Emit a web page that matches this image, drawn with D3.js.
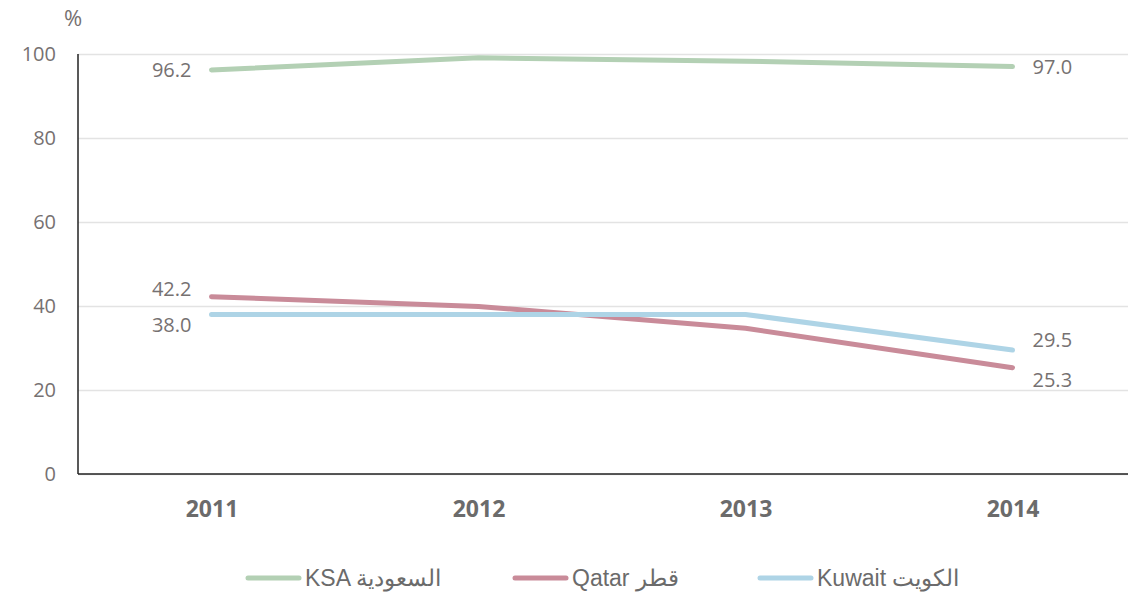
<!DOCTYPE html>
<meta charset="utf-8">
<style>
body { margin: 0; background: #fff; }
.tick text { fill: #767171; font-family: "Open Sans", sans-serif; font-size: 20px; }
.lbl { fill: #767171; font-family: "Open Sans", sans-serif; font-size: 20px; }
.year text { fill: #6b6b6b; font-family: "Open Sans", sans-serif; font-size: 23px; font-weight: bold; }
.legend text { fill: #6b6b6b; font-family: "Liberation Sans Narrow", "Arial Narrow", sans-serif; font-size: 23px; }
.line { fill: none; stroke-width: 5px; stroke-linecap: round; stroke-linejoin: round; }
</style>
<body>
<script src="https://d3js.org/d3.v7.min.js"></script>
<script>
// data
var years = ["2011", "2012", "2013", "2014"];
var ksa = [96.2, 99.1, 98.3, 97.0];
var qatar = [42.2, 39.9, 34.7, 25.3];
var kuwait = [38.0, 38.0, 38.0, 29.5];
var yTicks = [0, 20, 40, 60, 80, 100];
var names = ["KSA السعودية", "Qatar قطر", "Kuwait الكويت"];
var colors = ["#b3d0b4", "#c98b99", "#aed4e6"];

var width = 1128, height = 598;
var plotLeft = 78, plotTop = 54, plotBottom = 474, plotRight = 1146;

var svg = d3.select("body").append("svg")
    .attr("width", width)
    .attr("height", height);

var x = d3.scalePoint().domain(years).range([plotLeft, plotRight]).padding(0.5);
var y = d3.scaleLinear().domain([0, 100]).range([plotBottom, plotTop]);

// gridlines + y axis labels
var yAxis = svg.append("g")
    .attr("transform", "translate(" + plotLeft + ",0)")
    .call(d3.axisLeft(y).tickValues(yTicks).tickSize(-(plotRight - plotLeft)).tickPadding(22));
yAxis.select(".domain").remove();
yAxis.selectAll(".tick line").attr("stroke", "#e3e3e3").attr("stroke-width", 1.5);

// axis lines
svg.append("line").attr("x1", plotLeft).attr("x2", plotLeft).attr("y1", plotTop).attr("y2", plotBottom)
    .attr("stroke", "#222").attr("stroke-width", 1.5);
svg.append("line").attr("x1", plotLeft).attr("x2", plotRight).attr("y1", plotBottom).attr("y2", plotBottom)
    .attr("stroke", "#222").attr("stroke-width", 1.5);

svg.append("text").attr("class", "lbl").attr("x", 73).attr("y", 26)
    .style("font-size", "22px")
    .attr("text-anchor", "middle").text("%");

// x labels
var xAxis = svg.append("g").attr("class", "year")
    .attr("transform", "translate(0," + plotBottom + ")")
    .call(d3.axisBottom(x).tickSize(0).tickPadding(27));
xAxis.select(".domain").remove();

// lines
var series = [ksa, qatar, kuwait];
var line = d3.line()
    .x(function(d, i) { return x(years[i]); })
    .y(function(d) { return y(d); });

series.forEach(function(s, i) {
  svg.append("path")
      .datum(s)
      .attr("class", "line")
      .style("stroke", colors[i])
      .attr("d", line);
});

// data labels at first and last point
var firstDy = [0, -8, 11];
var lastDy = [0, 12, -10];
series.forEach(function(s, i) {
  svg.append("text").attr("class", "lbl")
      .attr("x", x(years[0]) - 20)
      .attr("y", y(s[0]) + firstDy[i])
      .attr("dy", "0.35em")
      .attr("text-anchor", "end")
      .text(s[0].toFixed(1));
  svg.append("text").attr("class", "lbl")
      .attr("x", x(years[3]) + 20)
      .attr("y", y(s[3]) + lastDy[i])
      .attr("dy", "0.35em")
      .attr("text-anchor", "start")
      .text(s[3].toFixed(1));
});

// legend
var legendX = [245, 512, 757];
var legend = svg.selectAll(".legend")
    .data(names)
    .enter().append("g")
    .attr("class", "legend")
    .attr("transform", function(d, i) { return "translate(" + legendX[i] + ",578)"; });

legend.append("line")
    .attr("x1", 3).attr("x2", 54)
    .attr("stroke", function(d, i) { return colors[i]; })
    .attr("stroke-width", 5)
    .attr("stroke-linecap", "round");

legend.append("text")
    .attr("x", 60)
    .attr("dy", "0.35em")
    .text(function(d) { return d; });
</script>
</body>
